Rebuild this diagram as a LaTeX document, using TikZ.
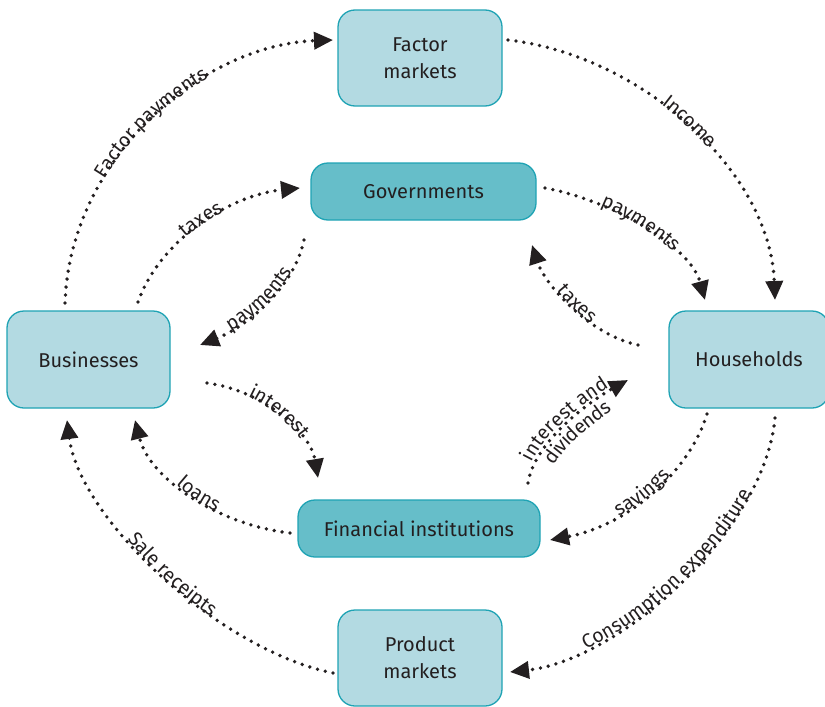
\documentclass[tikz,border=0pt]{standalone}
\usepackage{fontspec}
\setmainfont{Fira Sans}
\usetikzlibrary{arrows.meta,decorations.text}
\definecolor{lightbox}{HTML}{B3DAE2}
\definecolor{darkbox}{HTML}{66BEC9}
\definecolor{boxline}{HTML}{1FA3B4}
\definecolor{ink}{HTML}{231F20}
\begin{document}
\begin{tikzpicture}[x=1pt,y=-1pt,
  box/.style={draw=boxline, line width=1.3pt, rounded corners=17pt, text=ink, align=center, font=\fontsize{20}{27}\selectfont, inner sep=0pt},
  lightbox/.style={box, fill=lightbox, minimum width=164pt, minimum height=96pt},
  darkbox/.style={box, fill=darkbox, minimum height=57pt},
  flow/.style={draw=ink, line width=3.8pt, dash pattern=on 0pt off 8pt, line cap=round, -{Triangle[length=19pt,width=17pt]}},
  lbl/.style={decorate, decoration={text along path, text align=center, raise=-1pt, text={|\fontsize{19.5}{22}\selectfont\color{ink}|#1}}},
  lblup/.style={decorate, decoration={text along path, text align=center, raise=3pt, text={|\fontsize{19.5}{22}\selectfont\color{ink}|#1}}},
  lbldown/.style={decorate, decoration={text along path, text align=center, raise=-18pt, text={|\fontsize{19.5}{22}\selectfont\color{ink}|#1}}}
]
\useasboundingbox (0,0) rectangle (825,707);

\node[lightbox] (fm) at (420,58) {Factor\\markets};
\node[darkbox, minimum width=225pt] (gov) at (423.5,191.5) {Governments};
\node[lightbox, minimum width=163pt, minimum height=97pt] (bus) at (88.5,359.5) {Businesses};
\node[lightbox, minimum width=160pt, minimum height=97pt] (hh) at (749,359.5) {Households};
\node[darkbox, minimum width=242pt] (fin) at (419,528.5) {Financial institutions};
\node[lightbox] (pm) at (420,658) {Product\\markets};

% connector ends
\coordinate (fpS) at (65,303);   \coordinate (fpE) at (333,40);
\coordinate (inS) at (508,40);   \coordinate (inE) at (775,300);
\coordinate (tbS) at (138,302);  \coordinate (tbE) at (300,188);
\coordinate (pgS) at (304,240);  \coordinate (pgE) at (200,345);
\coordinate (phS) at (545,188);  \coordinate (phE) at (705,300);
\coordinate (thS) at (638,345);  \coordinate (thE) at (532,245);
\coordinate (ibS) at (207,383);  \coordinate (ibE) at (318,478);
\coordinate (loS) at (290,533);  \coordinate (loE) at (135,420);
\coordinate (idS) at (528,483);  \coordinate (idE) at (628,380);
\coordinate (svS) at (707,414);  \coordinate (svE) at (550,540);
\coordinate (ceS) at (775,418);  \coordinate (ceE) at (510,672);
\coordinate (srS) at (333,673);  \coordinate (srE) at (67,420);

% connectors
\draw[flow] (fpS) .. controls (70,160) and (200,45) .. (fpE);
\draw[flow] (inS) .. controls (640,55) and (770,170) .. (inE);
\draw[flow] (tbS) .. controls (160,240) and (230,195) .. (tbE);
\draw[flow] (pgS) .. controls (295,285) and (250,325) .. (pgE);
\draw[flow] (phS) .. controls (610,200) and (690,245) .. (phE);
\draw[flow] (thS) .. controls (590,335) and (545,285) .. (thE);
\draw[flow] (ibS) .. controls (260,390) and (310,430) .. (ibE);
\draw[flow] (loS) .. controls (220,525) and (150,480) .. (loE);
\draw[flow] (idS) .. controls (535,440) and (592,400) .. (idE);
\draw[flow] (svS) .. controls (690,470) and (630,525) .. (svE);
\draw[flow] (ceS) .. controls (765,530) and (620,660) .. (ceE);
\draw[flow] (srS) .. controls (220,650) and (80,520) .. (srE);

% labels
\path[lbl={Factor payments}] (fpS) .. controls (70,160) and (200,45) .. (fpE);
\path[lbl={Income}] (inS) .. controls (640,55) and (770,170) .. (inE);
\path[lbl={taxes}] (tbS) .. controls (160,240) and (230,195) .. (tbE);
\path[lbl={payments}] (pgE) .. controls (250,325) and (295,285) .. (pgS);
\path[lbl={payments}] (phS) .. controls (610,200) and (690,245) .. (phE);
\path[lbl={taxes}] (thE) .. controls (545,285) and (590,335) .. (thS);
\path[lbl={interest}] (ibS) .. controls (260,390) and (310,430) .. (ibE);
\path[lbl={loans}] (loE) .. controls (150,480) and (220,525) .. (loS);
\path[lblup={interest and}] (idS) .. controls (535,440) and (592,400) .. (idE);
\path[lbldown={dividends}] (idS) .. controls (535,440) and (592,400) .. (idE);
\path[lbl={savings}] (svE) .. controls (630,525) and (690,470) .. (svS);
\path[lbl={Consumption expenditure}] (ceE) .. controls (620,660) and (765,530) .. (ceS);
\path[lbl={Sale receipts}] (srE) .. controls (80,520) and (220,650) .. (srS);
\end{tikzpicture}
\end{document}
